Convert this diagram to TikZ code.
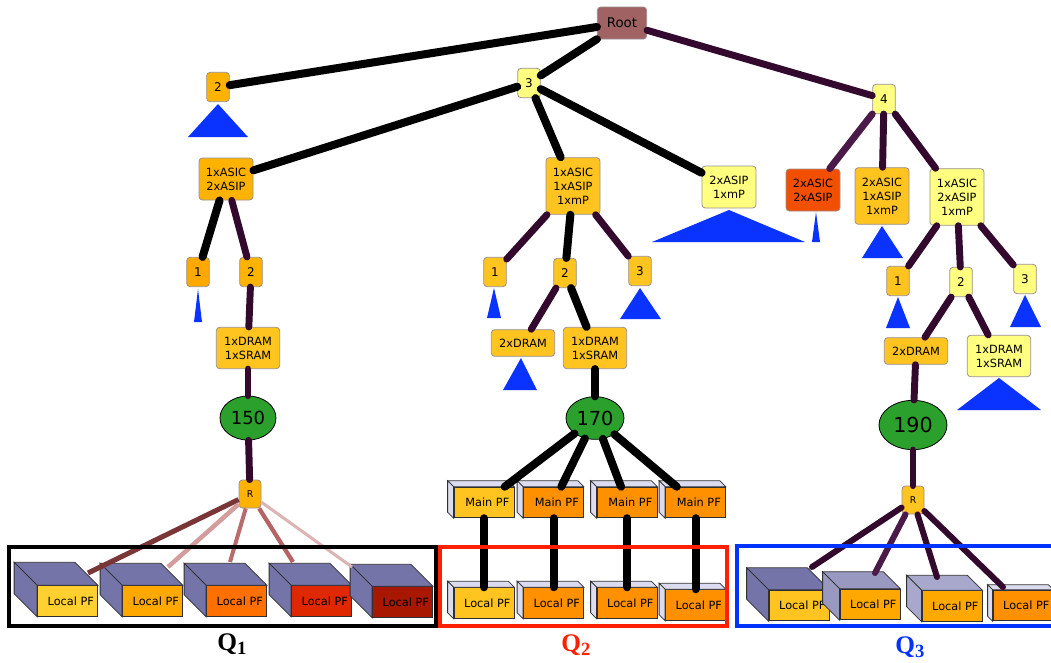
\documentclass[tikz,border=0pt]{standalone}
\usepackage{fontspec}
\setmainfont{DejaVu Sans}
\newfontfamily\qfont{Liberation Serif}
\usepackage{tikz}
\usetikzlibrary{shapes.geometric}
\usetikzlibrary{calc}

\definecolor{rootred}{HTML}{A06262}
\definecolor{hwyellow}{HTML}{FFFF80}
\definecolor{hwgold}{HTML}{FFC420}
\definecolor{hworange}{HTML}{FFB300}
\definecolor{hwdeep}{HTML}{FFA800}
\definecolor{hwred}{HTML}{F25000}
\definecolor{nodegrey}{HTML}{9A9090}
\definecolor{edgepurple}{HTML}{330A2E}
\definecolor{edgelight}{HTML}{4A1A48}
\definecolor{subblue}{HTML}{0A33FF}
\definecolor{rategreen}{HTML}{2CA02C}
\definecolor{pfline}{HTML}{303030}
\definecolor{slate}{HTML}{7474A8}
\definecolor{slatemid}{HTML}{9898C0}
\definecolor{slatelight}{HTML}{A8A8CC}
\definecolor{lavender}{HTML}{DCDCF0}
\definecolor{pforange}{HTML}{FF9000}
\definecolor{pfyellow}{HTML}{FFD030}
\definecolor{pfamber}{HTML}{FF7000}
\definecolor{pfscarlet}{HTML}{E02800}
\definecolor{pfmaroon}{HTML}{A81800}
\definecolor{qred}{HTML}{FF2000}
\definecolor{qblue}{HTML}{0033FF}

\tikzset{
    hw/.style={draw=nodegrey, line width=0.6pt, rounded corners=2.5pt, align=center, inner sep=1pt, font=\fontsize{8.5}{10.5}\selectfont},
    num/.style={hw, minimum width=17pt, minimum height=22pt, font=\fontsize{9}{10}\selectfont},
    two/.style={hw, minimum width=40.5pt, minimum height=31.5pt},
    three/.style={hw, minimum width=40.5pt, minimum height=42.5pt},
    mem/.style={hw, minimum width=47.5pt, minimum height=20pt},
    memtwo/.style={hw, minimum width=47.5pt, minimum height=31pt},
    router/.style={hw, minimum width=16.5pt, minimum height=21pt, font=\fontsize{7}{8}\selectfont},
    rate/.style={ellipse, draw=black, fill=rategreen, inner sep=0pt, line width=0.6pt},
    blk/.style={line width=6pt, line cap=round, black},
    pur/.style={line width=5.2pt, line cap=round, edgepurple},
    sub/.style={fill=subblue},
    pf/.style={draw=pfline, line width=0.6pt, minimum width=45pt, minimum height=23pt, inner sep=0pt, font=\fontsize{8.5}{10}\selectfont},
    pfside/.style={draw=pfline, line width=0.6pt},
    frame/.style={line width=2.3pt},
    qlabel/.style={font=\qfont\fontsize{19}{19}\selectfont\bfseries},
}

\newcommand{\pfcube}[6]{%
    \node[pf, fill=#3] (#1) at #2 {\raisebox{-2.5pt}{\hspace{5pt}#6}};
    \filldraw[pfside, fill=#4] (#1.north west) -- ++(-#5,-#5) -- ($(#1.north east)+(-#5,-#5)$) -- (#1.north east) -- cycle;
    \filldraw[pfside, fill=#4] (#1.north west) -- ++(-#5,-#5) -- ($(#1.south west)+(-#5,-#5)$) -- (#1.south west) -- cycle;
}
\newcommand{\qsub}[1]{Q\raisebox{-3pt}{\fontsize{14}{14}\selectfont #1}}

\begin{document}
\begin{tikzpicture}[x=0.75pt, y=-0.75pt]
    \useasboundingbox (0,0) rectangle (1051,662);

    \node[hw, fill=rootred, minimum width=37pt, minimum height=24pt, font=\fontsize{10}{12}\selectfont] (root) at (622,23) {Root};
    \node[num, fill=hworange] (n2) at (218,87) {2};
    \node[num, fill=hwyellow] (n3) at (529,83) {3};
    \node[num, fill=hwyellow] (n4) at (884,99) {4};

    \node[two, fill=hworange] (a1) at (226,179) {1xASIC\\2xASIP};
    \node[three, fill=hwgold] (a2) at (573,186) {1xASIC\\1xASIP\\1xmP};
    \node[two, fill=hwyellow] (a3) at (729,187) {2xASIP\\1xmP};
    \node[two, fill=hwred] (b1) at (813,190) {2xASIC\\2xASIP};
    \node[three, fill=hwgold] (b2) at (882,196) {2xASIC\\1xASIP\\1xmP};
    \node[three, fill=hwyellow] (b3) at (957,197) {1xASIC\\2xASIP\\1xmP};

    \node[num, fill=hwdeep] (a1one) at (198,272) {1};
    \node[num, fill=hworange] (a1two) at (251,272) {2};
    \node[memtwo, fill=hwgold] (l1mem) at (248,348) {1xDRAM\\1xSRAM};
    \node[rate, minimum width=42pt, minimum height=33pt, font=\fontsize{13.5}{14}\selectfont] (l1rate) at (248,418) {150};
    \node[router, fill=hworange] (l1R) at (250,494) {R};

    \node[num, fill=hwgold] (m1) at (495,272) {1};
    \node[num, fill=hwgold] (m2) at (565,273) {2};
    \node[num, fill=hwgold] (m3) at (640,271) {3};
    \node[mem, fill=hwgold] (m2a) at (523,343) {2xDRAM};
    \node[memtwo, fill=hwgold] (m2b) at (595,348) {1xDRAM\\1xSRAM};
    \node[rate, minimum width=43.5pt, minimum height=32pt, font=\fontsize{14.5}{15}\selectfont] (mrate) at (595,418) {170};

    \node[num, fill=hwgold] (r1) at (898,281) {1};
    \node[num, fill=hwyellow] (r2) at (961,282) {2};
    \node[num, fill=hwyellow] (r3) at (1025,279) {3};
    \node[mem, fill=hwgold] (r2a) at (916,351) {2xDRAM};
    \node[memtwo, fill=hwyellow] (r2b) at (999,356) {1xDRAM\\1xSRAM};
    \node[rate, minimum width=51pt, minimum height=37pt, font=\fontsize{15.5}{16}\selectfont] (rrate) at (913,425) {190};
    \node[router, fill=hwgold] (rR) at (913,500) {R};

    \fill[sub] (218,104) -- (248,137) -- (188,137) -- cycle;
    \fill[sub] (729,210) -- (805,242) -- (652,242) -- cycle;
    \fill[sub] (816,212) -- (820,242) -- (812,242) -- cycle;
    \fill[sub] (882,226) -- (903,258) -- (862,258) -- cycle;
    \fill[sub] (198,289) -- (202,322) -- (194,322) -- cycle;
    \fill[sub] (494,288) -- (501,318) -- (487,318) -- cycle;
    \fill[sub] (640,288) -- (661,319) -- (620,319) -- cycle;
    \fill[sub] (521,358) -- (537,390) -- (503,390) -- cycle;
    \fill[sub] (898,297) -- (910,328) -- (886,328) -- cycle;
    \fill[sub] (1025,295) -- (1041,327) -- (1010,327) -- cycle;
    \fill[sub] (999,378) -- (1041,410) -- (957,410) -- cycle;

    \pfcube{q1a}{(67.5,601)}{pfyellow}{slate}{23}{Local PF}
    \pfcube{q1b}{(152.5,601)}{hwdeep}{slate}{22}{Local PF}
    \pfcube{q1c}{(236.5,601)}{pfamber}{slate}{22}{Local PF}
    \pfcube{q1d}{(321.5,601)}{pfscarlet}{slate}{22}{Local PF}
    \pfcube{q1e}{(402.5,602)}{pfmaroon}{slate}{22}{Local PF}

    \pfcube{mp1}{(484,502.5)}{hwgold}{lavender}{6}{Main PF}
    \pfcube{mp2}{(553.5,502.5)}{pforange}{lavender}{6}{Main PF}
    \pfcube{mp3}{(627,502.5)}{pforange}{lavender}{6}{Main PF}
    \pfcube{mp4}{(695.5,502.5)}{pforange}{lavender}{6}{Main PF}
    \pfcube{q2a}{(484,603)}{hwgold}{lavender}{6}{Local PF}
    \pfcube{q2b}{(553.5,603)}{pforange}{lavender}{6}{Local PF}
    \pfcube{q2c}{(627,603)}{pforange}{lavender}{6}{Local PF}
    \pfcube{q2d}{(695.5,605)}{pforange}{lavender}{6}{Local PF}

    \pfcube{q3a}{(799,605.5)}{hwgold}{slate}{22}{Local PF}
    \pfcube{q3b}{(870,604.5)}{hwdeep}{slatemid}{17}{Local PF}
    \pfcube{q3c}{(952,606)}{hwdeep}{slatelight}{15}{Local PF}
    \pfcube{q3d}{(1023,605.5)}{pforange}{lavender}{5}{Local PF}

    \coordinate (t1a) at (88,573);
    \coordinate (t1b) at (168,567);
    \coordinate (t1c) at (230,562);
    \coordinate (t1d) at (293,562);
    \coordinate (t1e) at (352,567);
    \coordinate (t3a) at (812,567);
    \coordinate (t3b) at (875,573);
    \coordinate (t3c) at (937,577);
    \coordinate (t3d) at (1003,587);

    \draw[blk] (root) -- (n2);
    \draw[blk] (root) -- (n3);
    \draw[pur] (root) -- (n4);
    \draw[blk] (n3) -- (a1);
    \draw[blk] (n3) -- (a2);
    \draw[blk] (n3) -- (a3);
    \draw[pur, edgelight] (n4) -- (b1);
    \draw[pur] (n4) -- (b2);
    \draw[pur] (n4) -- (b3);

    \draw[blk] (a1) -- (a1one);
    \draw[pur] (a1) -- (a1two);
    \draw[pur] (a1two) -- (l1mem);
    \draw[pur] (l1mem) -- (l1rate);
    \draw[pur] (l1rate) -- (l1R);
    \draw[line width=3.8pt, color={rgb,255:red,122;green,54;blue,54}] (l1R) -- (t1a);
    \draw[line width=3.4pt, color={rgb,255:red,212;green,156;blue,156}] (l1R) -- (t1b);
    \draw[line width=3pt, color={rgb,255:red,184;green,108;blue,108}] (l1R) -- (t1c);
    \draw[line width=3.2pt, color={rgb,255:red,180;green,100;blue,100}] (l1R) -- (t1d);
    \draw[line width=2.3pt, color={rgb,255:red,221;green,180;blue,180}] (l1R) -- (t1e);

    \draw[pur] (a2) -- (m1);
    \draw[blk] (a2) -- (m2);
    \draw[pur] (a2) -- (m3);
    \draw[pur] (m2) -- (m2a);
    \draw[blk] (m2) -- (m2b);
    \draw[blk] (m2b) -- (mrate);
    \foreach \i in {1,...,4} {
        \draw[blk] (mrate) -- (mp\i);
    }
    \draw[blk] (mp1.south) -- (q2a.north);
    \draw[blk] (mp2.south) -- (q2b.north);
    \draw[blk] (mp3.south) -- (q2c.north);
    \draw[blk] (mp4.south) -- (q2d.north);

    \draw[pur] (b3) -- (r1);
    \draw[pur] (b3) -- (r2);
    \draw[pur] (b3) -- (r3);
    \draw[pur] (r2) -- (r2a);
    \draw[pur] (r2) -- (r2b);
    \draw[pur] (r2a) -- (rrate);
    \draw[pur] (rrate) -- (rR);
    \draw[pur, line width=4.5pt] (rR) -- (t3a);
    \draw[pur, line width=4.5pt, edgelight] (rR) -- (t3b);
    \draw[pur, line width=4.5pt] (rR) -- (t3c);
    \draw[pur, line width=4.5pt] (rR) -- (t3d);

    \draw[frame, black] (9,547) rectangle (436,626);
    \draw[frame, qred] (440,547) rectangle (727,626);
    \draw[frame, qblue] (737,546) rectangle (1058,626);

    \node[qlabel] (q1) at (232,644) {\qsub{1}};
    \node[qlabel, qred] (q2) at (576,645) {\qsub{2}};
    \node[qlabel, qblue] (q3) at (910,647) {\qsub{3}};
\end{tikzpicture}
\end{document}
